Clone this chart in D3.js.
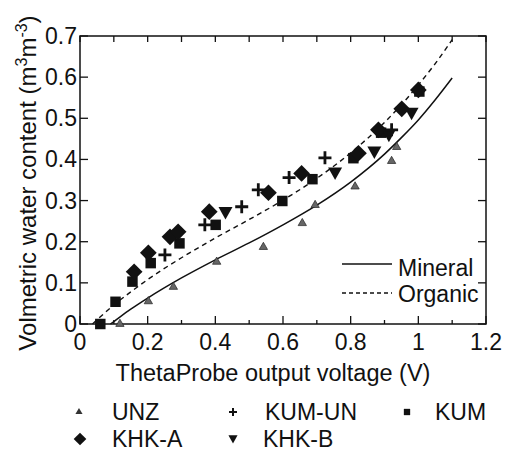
<!DOCTYPE html>
<html>
<head>
<meta charset="utf-8">
<script src="https://cdn.jsdelivr.net/npm/d3@7"></script>
<style>
  html, body { margin: 0; padding: 0; background: #fff; }
  svg { display: block; font-family: "Liberation Sans", Arial, sans-serif; }
</style>
</head>
<body>
<svg id="chart" width="505" height="456"></svg>
<script>
// ---- data ----
const unz    = [[0.118,0.0],[0.202,0.055],[0.276,0.090],[0.404,0.151],[0.542,0.187],[0.657,0.245],[0.695,0.289],[0.813,0.334],[0.921,0.396],[0.936,0.430]];
const kumUn  = [[0.251,0.168],[0.369,0.241],[0.478,0.285],[0.527,0.326],[0.618,0.356],[0.724,0.404],[0.921,0.472]];
const kum    = [[0.060,0.0],[0.105,0.054],[0.155,0.103],[0.209,0.148],[0.294,0.196],[0.401,0.241],[0.598,0.299],[0.687,0.352],[0.808,0.403],[0.890,0.465],[1.003,0.565]];
const khkA   = [[0.160,0.127],[0.202,0.173],[0.266,0.212],[0.290,0.224],[0.382,0.273],[0.557,0.319],[0.655,0.366],[0.823,0.415],[0.882,0.472],[0.951,0.523],[1.000,0.569]];
const khkB   = [[0.430,0.271],[0.754,0.367],[0.870,0.418],[0.913,0.459],[0.980,0.512]];
const mineral = [[0.090,0.0],[0.1,0.006],[0.15,0.036],[0.2,0.063],[0.3,0.112],[0.4,0.156],[0.5,0.197],[0.6,0.241],[0.7,0.289],[0.8,0.345],[0.9,0.413],[0.95,0.453],[1.0,0.496],[1.05,0.545],[1.1,0.598]];
const organic = [[0.037,0.0],[0.1,0.046],[0.15,0.078],[0.2,0.108],[0.3,0.161],[0.4,0.209],[0.5,0.254],[0.6,0.301],[0.7,0.354],[0.8,0.416],[0.9,0.490],[0.95,0.533],[1.0,0.581],[1.05,0.633],[1.1,0.691]];
const xTicks = [0, 0.2, 0.4, 0.6, 0.8, 1, 1.2];
const xMinor = [0.1, 0.3, 0.5, 0.7, 0.9, 1.1];
const yTicks = [0, 0.1, 0.2, 0.3, 0.4, 0.5, 0.6, 0.7];

const svg = d3.select('#chart');
const x = d3.scaleLinear().domain([0, 1.2]).range([80, 486]);
const y = d3.scaleLinear().domain([0, 0.7]).range([324, 36]);
const ink = '#111';
const fs = 23;

// Ticks (inward on all four sides)
const tickG = svg.append('g').attr('stroke', ink).attr('stroke-width', 1.3);
xTicks.forEach(v => tickG.append('line').attr('x1', x(v)).attr('x2', x(v)).attr('y1', y(0)).attr('y2', y(0) - 8));
xMinor.forEach(v => tickG.append('line').attr('x1', x(v)).attr('x2', x(v)).attr('y1', y(0)).attr('y2', y(0) - 4));
xTicks.concat(xMinor).forEach(v => tickG.append('line').attr('x1', x(v)).attr('x2', x(v)).attr('y1', y(0.7)).attr('y2', y(0.7) + 6));
yTicks.forEach(v => {
  tickG.append('line').attr('x1', x(0)).attr('x2', x(0) + 8).attr('y1', y(v)).attr('y2', y(v));
  tickG.append('line').attr('x1', x(1.2)).attr('x2', x(1.2) - 8).attr('y1', y(v)).attr('y2', y(v));
});

// Frame
svg.append('rect')
  .attr('x', x(0)).attr('y', y(0.7))
  .attr('width', x(1.2) - x(0)).attr('height', y(0) - y(0.7))
  .attr('fill', 'none').attr('stroke', ink).attr('stroke-width', 1.5);

// Tick labels
svg.append('g').selectAll('text').data(xTicks).enter().append('text')
  .attr('x', d => x(d)).attr('y', 350)
  .attr('text-anchor', 'middle').attr('font-size', fs).attr('fill', ink)
  .text(d => d);
svg.append('g').selectAll('text').data(yTicks).enter().append('text')
  .attr('x', 77).attr('y', d => y(d) + 8)
  .attr('text-anchor', 'end').attr('font-size', fs).attr('fill', ink)
  .text(d => d);

// Axis titles
svg.append('text')
  .attr('x', 273).attr('y', 381)
  .attr('text-anchor', 'middle').attr('font-size', 23.5).attr('fill', ink)
  .text('ThetaProbe output voltage (V)');
const yt = svg.append('text')
  .attr('transform', 'translate(36,183) rotate(-90)')
  .attr('text-anchor', 'middle').attr('font-size', 24).attr('fill', ink);
yt.append('tspan').text('Volmetric water content (m');
yt.append('tspan').attr('dy', -9).attr('font-size', 16).text('3');
yt.append('tspan').attr('dy', 9).text('m');
yt.append('tspan').attr('dy', -9).attr('font-size', 16).text('-3');
yt.append('tspan').attr('dy', 9).text(')');

// Calibration curves
const line = d3.line().x(d => x(d[0])).y(d => y(d[1])).curve(d3.curveMonotoneX);
svg.append('path').datum(mineral).attr('d', line)
  .attr('fill', 'none').attr('stroke', ink).attr('stroke-width', 1.5);
svg.append('path').datum(organic).attr('d', line)
  .attr('fill', 'none').attr('stroke', ink).attr('stroke-width', 1.4).attr('stroke-dasharray', '5,4');

// Markers
const sym = (type, size) => d3.symbol().type(type).size(size)();
const downTri = { draw(ctx, size) {
  const h = Math.sqrt(size / 0.433);
  ctx.moveTo(-h / 2, -h * 0.4); ctx.lineTo(h / 2, -h * 0.4); ctx.lineTo(0, h * 0.5); ctx.closePath();
} };
const diamond = { draw(ctx, size) {
  const r = Math.sqrt(size / 2);
  ctx.moveTo(0, -r); ctx.lineTo(r, 0); ctx.lineTo(0, r); ctx.lineTo(-r, 0); ctx.closePath();
} };

function drawPoints(data, path, opts) {
  svg.append('g').selectAll('path').data(data).enter().append('path')
    .attr('transform', d => `translate(${x(d[0])},${y(d[1])})`)
    .attr('d', path)
    .attr('fill', opts.fill || 'none')
    .attr('stroke', opts.stroke || 'none')
    .attr('stroke-width', opts.sw || 0);
}
const plusPath = 'M-6.5,0H6.5M0,-6.5V6.5';
drawPoints(unz, sym(d3.symbolTriangle, 30), { fill: '#666', stroke: '#222', sw: 0.7 });
drawPoints(kum, sym(d3.symbolSquare, 110), { fill: ink });
drawPoints(khkA, sym(diamond, 140), { fill: ink });
drawPoints(khkB, sym(downTri, 85), { fill: ink });
drawPoints(kumUn, plusPath, { stroke: ink, sw: 2.8 });

// Line legend (inside plot)
const lg = svg.append('g');
lg.append('line').attr('x1', 342).attr('x2', 392).attr('y1', 264).attr('y2', 264).attr('stroke', ink).attr('stroke-width', 1.3);
lg.append('line').attr('x1', 342).attr('x2', 392).attr('y1', 293).attr('y2', 293).attr('stroke', ink).attr('stroke-width', 1.3).attr('stroke-dasharray', '4,3');
lg.append('text').attr('x', 398).attr('y', 276).attr('font-size', fs).attr('fill', ink).text('Mineral');
lg.append('text').attr('x', 398).attr('y', 302).attr('font-size', fs).attr('fill', ink).text('Organic');

// Series legend (below)
const series = [
  { name: 'UNZ',    path: sym(d3.symbolTriangle, 22), fill: '#333', mx: 79,  tx: 112, ty: 420 },
  { name: 'KUM-UN', path: 'M-4,0H4M0,-4V4', stroke: ink, sw: 2, mx: 233, tx: 265, ty: 420 },
  { name: 'KUM',    path: sym(d3.symbolSquare, 40), fill: ink, mx: 407, tx: 435, ty: 420 },
  { name: 'KHK-A',  path: sym(diamond, 80), fill: ink, mx: 80,  tx: 112, ty: 447 },
  { name: 'KHK-B',  path: sym(downTri, 36), fill: ink, mx: 233, tx: 263, ty: 447 },
];
const leg = svg.append('g').selectAll('g').data(series).enter().append('g');
leg.append('path')
  .attr('transform', d => `translate(${d.mx},${d.ty - 8})`)
  .attr('d', d => d.path)
  .attr('fill', d => d.fill || 'none')
  .attr('stroke', d => d.stroke || 'none')
  .attr('stroke-width', d => d.sw || 0);
leg.append('text')
  .attr('x', d => d.tx).attr('y', d => d.ty)
  .attr('font-size', fs).attr('fill', ink)
  .text(d => d.name);
</script>
</body>
</html>
